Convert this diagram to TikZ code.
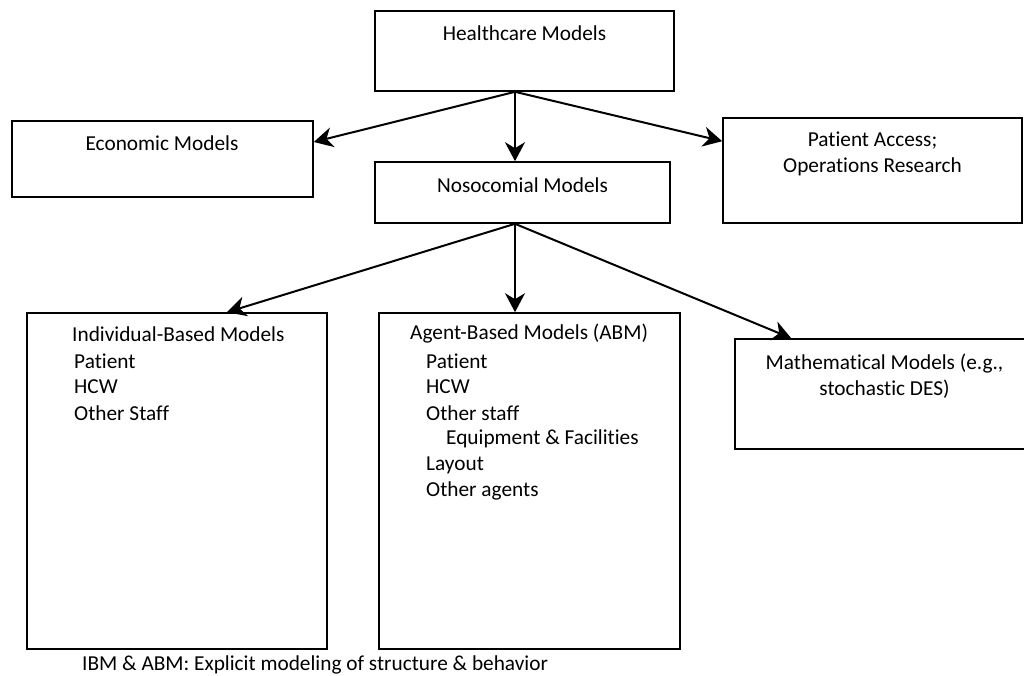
\documentclass[tikz,border=0pt]{standalone}
\usepackage{fontspec}
\setmainfont{Carlito}[RawFeature={-liga}]
\usetikzlibrary{arrows.meta}
\begin{document}
\begin{tikzpicture}[x=1pt,y=-1pt,
  box/.style={draw=black,line width=1.6pt,rectangle,inner sep=0pt,fill=white},
  txt/.style={inner sep=0pt,font=\fontsize{21.3}{26}\selectfont},
  conn/.style={line width=2pt,-{Stealth[length=19pt,width=20pt,inset=6pt]}}]
\useasboundingbox (0,0) rectangle (1024,676);
% boxes
\node[box,minimum width=299pt,minimum height=80pt] (hc) at (524.5,51) {};
\node[box,minimum width=301pt,minimum height=76pt] (eco) at (162.5,159) {};
\node[box,minimum width=295pt,minimum height=61pt] (noso) at (522.5,192.5) {};
\node[box,minimum width=299pt,minimum height=105pt] (pa) at (872.5,170.5) {};
\node[box,minimum width=300pt,minimum height=336pt] (ibm) at (177,481) {};
\node[box,minimum width=301pt,minimum height=336pt] (abm) at (529.5,481) {};
\node[box,minimum width=293pt,minimum height=110pt] (math) at (881.5,394) {};
% arrow origins on the lower edges
\coordinate (hcs) at ([xshift=-9.5pt]hc.south);
\coordinate (nosos) at ([xshift=-7.5pt]noso.south);
% box texts
\node[txt] (hct) at (524.5,33) {Healthcare Models};
\node[txt] (ecot) at (162,143) {Economic Models};
\node[txt] (nosot) at (522.5,185) {Nosocomial Models};
\node[txt,align=center] (pat) at (872.5,154) {Patient Access;\\Operations Research};
\node[txt,align=center] (matht) at (884.5,376) {Mathematical Models (e.g.,\\stochastic DES)};
\node[txt,anchor=west] (ibmt) at (72,334) {Individual-Based Models};
\node[txt,anchor=west] (ibm1) at (74,361) {Patient};
\node[txt,anchor=west] (ibm2) at (74,387) {HCW};
\node[txt,anchor=west] (ibm3) at (74,413) {Other Staff};
\node[txt,anchor=west] (abmt) at (410,334) {Agent-Based Models (ABM)};
\node[txt,anchor=west] (abm1) at (426,361) {Patient};
\node[txt,anchor=west] (abm2) at (426,387) {HCW};
\node[txt,anchor=west] (abm3) at (426,413) {Other staff};
\node[txt,anchor=west] (abm4) at (446,439) {Equipment \& Facilities};
\node[txt,anchor=west] (abm5) at (426,465) {Layout};
\node[txt,anchor=west] (abm6) at (426,491) {Other agents};
\node[txt,anchor=west] (foot) at (82,665) {IBM \& ABM: Explicit modeling of structure \& behavior};
% connectors
\draw[conn] (hcs) -- ([yshift=17pt]eco.east);
\draw[conn] (hcs) -- (hcs |- noso.north);
\draw[conn] (hcs) -- ([yshift=-24pt]pa.north west);
\draw[conn] (nosos) -- ([xshift=50pt]ibm.north);
\draw[conn] (nosos) -- (nosos |- abm.north);
\draw[conn] (nosos) -- ([xshift=57pt]math.north west);
\end{tikzpicture}
\end{document}
